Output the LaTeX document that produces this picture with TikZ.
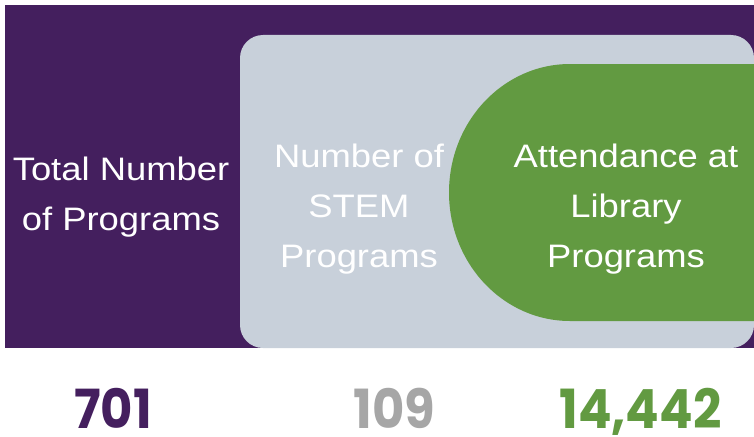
\documentclass[tikz,border=0pt]{standalone}
\usepackage{fontspec}
\usepackage{tikz}
\usetikzlibrary{positioning, calc}
\newfontfamily\boxfont[FakeStretch=1.12]{Liberation Sans}
\newfontfamily\numfont[FakeStretch=0.92]{Poppins}
\definecolor{colorpurple}{HTML}{441F5E}
\definecolor{colorslate}{HTML}{C8D0DA}
\definecolor{colorgreen}{HTML}{629A41}
\definecolor{colornum}{HTML}{A6A6A6}
\tikzstyle{boxtext}=[text=white, align=center, anchor=base, inner sep=0pt, font=\boxfont\fontsize{32.5}{50}\selectfont]
\tikzstyle{bignum}=[anchor=base, inner sep=0pt, text depth=0pt, font=\numfont\bfseries\fontsize{54}{54}\selectfont]

\begin{document}
\begin{tikzpicture}[x=1pt, y=-1pt]
\useasboundingbox[fill=white] (0,0) rectangle (754,436);
\fill[colorpurple] (5,5) rectangle (754,348);
\fill[colorslate, rounded corners=23pt] (240,35) rectangle (754,348);
\fill[colorgreen] (754,64) -- (570,64) arc[start angle=270, end angle=90, x radius=121, y radius=128.5] -- (754,321) -- cycle;

% base anchor sits on the last line
\node[boxtext](total) at (121,230){Total Number\\of Programs};
\node[boxtext](stem) at (359,267){Number of\\STEM\\Programs};
\node[boxtext](attend) at (626,267){Attendance at\\Library\\Programs};

\node[bignum, text=colorpurple](ntotal) at (113,428){701};
\node[bignum, text=colornum](nstem) at (394.5,428){109};
\node[bignum, text=colorgreen](nattend) at (640.5,428){14,442};
\end{tikzpicture}
\end{document}
